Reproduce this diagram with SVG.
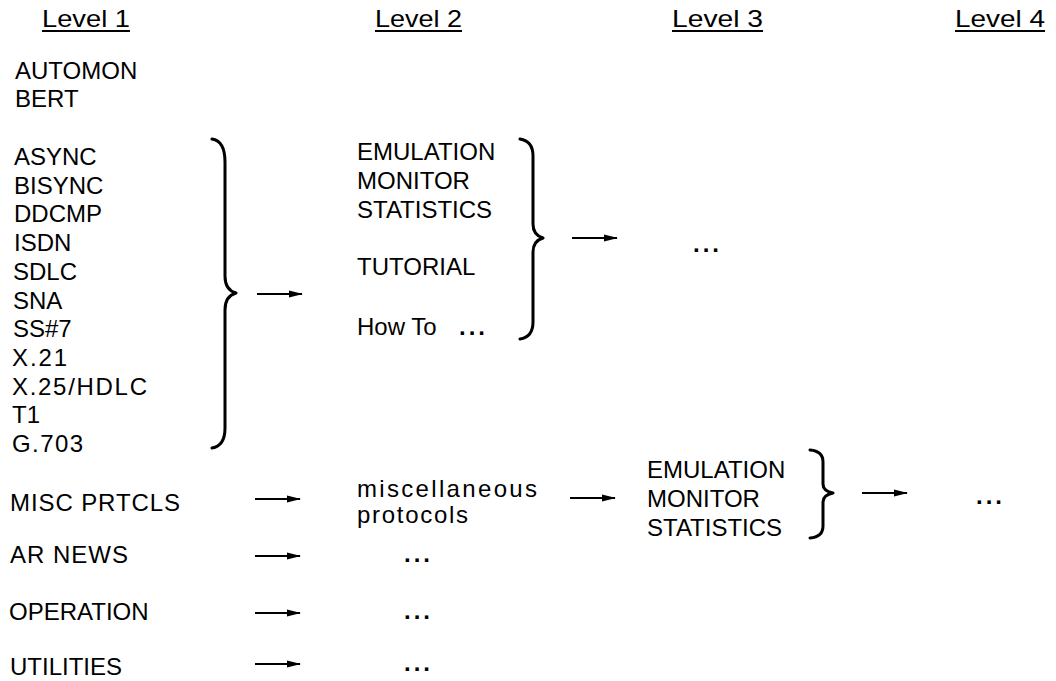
<svg xmlns="http://www.w3.org/2000/svg" width="1056" height="681" viewBox="0 0 1056 681">
<style>
text{font-family:"Liberation Sans",Arial,Helvetica,sans-serif;font-size:24px;fill:#000}
.hdr{font-size:24px}
.ul{stroke:#000;stroke-width:2}
.brace{fill:none;stroke:#000;stroke-width:3;stroke-linejoin:round;stroke-linecap:round}
.arrow{stroke:#000;stroke-width:2;marker-end:url(#ah)}
.dots{font-weight:bold;letter-spacing:3px}
</style>
<defs>
<marker id="ah" markerWidth="14" markerHeight="8" refX="13" refY="4" orient="auto" markerUnits="userSpaceOnUse">
<path d="M0,0.5 L14,4 L0,7.5 Z" fill="#000"/>
</marker>
</defs>
<rect width="1056" height="681" fill="#fff"/>
<g id="headers">
<text class="hdr" x="42" y="27" textLength="88" lengthAdjust="spacingAndGlyphs">Level 1</text>
<line class="ul" x1="42" y1="31" x2="130" y2="31"/>
<text class="hdr" x="375" y="27" textLength="87" lengthAdjust="spacingAndGlyphs">Level 2</text>
<line class="ul" x1="375" y1="31" x2="462" y2="31"/>
<text class="hdr" x="672" y="27" textLength="91" lengthAdjust="spacingAndGlyphs">Level 3</text>
<line class="ul" x1="672" y1="31" x2="763" y2="31"/>
<text class="hdr" x="955" y="27" textLength="90" lengthAdjust="spacingAndGlyphs">Level 4</text>
<line class="ul" x1="955" y1="31" x2="1045" y2="31"/>
</g>
<g id="l1-top">
<text x="15" y="79">AUTOMON</text>
<text x="15" y="107">BERT</text>
</g>
<g id="l1-protocols">
<text x="14" y="165">ASYNC</text>
<text x="14" y="193.7">BISYNC</text>
<text x="14" y="222.4">DDCMP</text>
<text x="14" y="251.1">ISDN</text>
<text x="13" y="279.8">SDLC</text>
<text x="13" y="308.5">SNA</text>
<text x="13" y="337.2">SS#7</text>
<text x="12" y="365.9" textLength="55" lengthAdjust="spacing">X.21</text>
<text x="12" y="394.6" textLength="135" lengthAdjust="spacing">X.25/HDLC</text>
<text x="12" y="423.3">T1</text>
<text x="12" y="452" textLength="71" lengthAdjust="spacing">G.703</text>
</g>
<g id="l1-misc"><text x="10" y="511" textLength="170" lengthAdjust="spacing">MISC PRTCLS</text></g>
<g id="l1-arnews"><text x="10" y="563" textLength="118" lengthAdjust="spacing">AR NEWS</text></g>
<g id="l1-operation"><text x="9" y="620">OPERATION</text></g>
<g id="l1-utilities"><text x="10" y="675">UTILITIES</text></g>
<g id="l2-group">
<text x="357" y="160">EMULATION</text>
<text x="357" y="189">MONITOR</text>
<text x="357" y="218">STATISTICS</text>
<text x="357" y="275">TUTORIAL</text>
<text x="357" y="335">How To <tspan class="dots" x="459">...</tspan></text>
</g>
<g id="l2-misc">
<text x="357" y="497" textLength="180" lengthAdjust="spacing">miscellaneous</text>
<text x="357" y="523" textLength="111" lengthAdjust="spacing">protocols</text>
</g>
<g id="l2-arnews"><text class="dots" x="404" y="562">...</text></g>
<g id="l2-operation"><text class="dots" x="404" y="619">...</text></g>
<g id="l2-utilities"><text class="dots" x="404" y="671">...</text></g>
<g id="l3-upper"><text class="dots" x="693" y="252">...</text></g>
<g id="l3-misc">
<text x="647" y="478">EMULATION</text>
<text x="647" y="507">MONITOR</text>
<text x="647" y="536">STATISTICS</text>
</g>
<g id="l4-misc"><text class="dots" x="976" y="504">...</text></g>
<g id="braces">
<path class="brace" d="M212,139 Q225,141 225,162 L225,276 Q225,290 236,293 Q225,296 225,310 L225,428 Q225,446 212,448"/>
<path class="brace" d="M520,139 Q533,141 533,156 L533,224 Q533,235 543,238 Q533,241 533,252 L533,322 Q533,337 520,339"/>
<path class="brace" d="M810,450 Q823,451 823,462 L823,484 Q823,491 833,493 Q823,495 823,502 L823,526 Q823,537 810,538"/>
</g>
<g id="connectors">
<line class="arrow" x1="257" y1="294" x2="302" y2="294"/>
<line class="arrow" x1="572" y1="238" x2="617" y2="238"/>
<line class="arrow" x1="255" y1="499" x2="300" y2="499"/>
<line class="arrow" x1="570" y1="498" x2="615" y2="498"/>
<line class="arrow" x1="862" y1="493" x2="907" y2="493"/>
<line class="arrow" x1="255" y1="556" x2="300" y2="556"/>
<line class="arrow" x1="255" y1="613" x2="300" y2="613"/>
<line class="arrow" x1="255" y1="664" x2="300" y2="664"/>
</g>
</svg>
